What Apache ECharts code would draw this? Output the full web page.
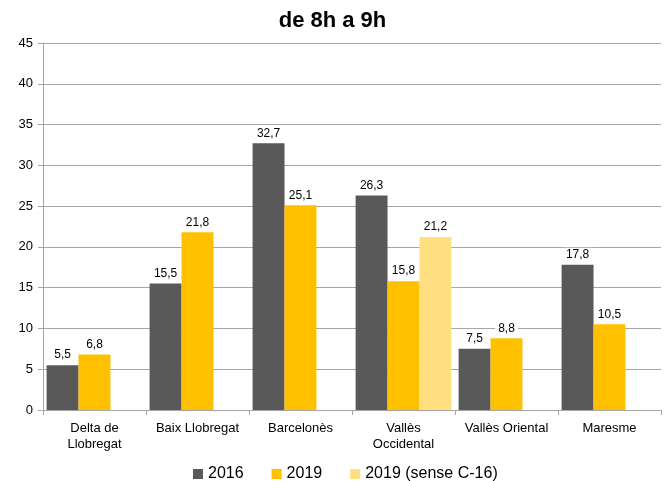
<!DOCTYPE html>
<html>
<head>
<meta charset="utf-8">
<script src="https://cdn.jsdelivr.net/npm/echarts@6/dist/echarts.min.js"></script>
<style>
html, body { margin: 0; padding: 0; background: #fff; }
#chart { width: 665px; height: 481px; }
</style>
</head>
<body>
<div id="chart"></div>
<script>
var categories = ['Delta de\nLlobregat', 'Baix Llobregat', 'Barcelonès', 'Vallès\nOccidental', 'Vallès Oriental', 'Maresme'];
var serieNames = ['2016', '2019', '2019 (sense C-16)'];
var values2016 = [5.5, 15.5, 32.7, 26.3, 7.5, 17.8];
var values2019 = [6.8, 21.8, 25.1, 15.8, 8.8, 10.5];
var valuesSenseC16 = [null, null, null, 21.2, null, null];
var colors = ['#595959', '#FFC000', '#FFDF80'];

var chart = echarts.init(document.getElementById('chart'));

function fmt(p) {
    return String(p.value).replace('.', ',');
}

var labelStyle = {
    show: true,
    position: 'top',
    distance: 3,
    formatter: fmt,
    color: '#000',
    fontFamily: 'Liberation Sans',
    fontSize: 12,
    backgroundColor: '#fff',
    padding: [1, 3]
};

var allData = [values2016, values2019, valuesSenseC16];
var series = [];
for (var i = 0; i < serieNames.length; i++) {
    series.push({
        name: serieNames[i],
        type: 'bar',
        data: allData[i],
        barGap: '0%',
        barCategoryGap: '7%',
        itemStyle: { color: colors[i] },
        label: labelStyle
    });
}

chart.setOption({
    animation: false,
    textStyle: { fontFamily: 'Liberation Sans' },
    title: {
        text: 'de 8h a 9h',
        left: 'center',
        top: 5,
        textStyle: { fontSize: 22, fontWeight: 'bold', color: '#000', fontFamily: 'Liberation Sans' }
    },
    legend: {
        top: 461,
        left: 188,
        itemWidth: 10,
        itemHeight: 10,
        itemGap: 28,
        icon: 'rect',
        textStyle: { fontSize: 16, color: '#000', fontFamily: 'Liberation Sans' },
        data: serieNames
    },
    grid: {
        left: 43,
        right: 4,
        top: 43,
        bottom: 71
    },
    xAxis: {
        type: 'category',
        data: categories,
        axisLine: { lineStyle: { color: '#A6A6A6' } },
        axisTick: { show: true, length: 5, lineStyle: { color: '#A6A6A6' } },
        axisLabel: { color: '#000', fontSize: 13, interval: 0, lineHeight: 16, margin: 10 }
    },
    yAxis: {
        type: 'value',
        min: 0,
        max: 45,
        interval: 5,
        axisLine: { show: true, lineStyle: { color: '#A6A6A6' } },
        axisTick: { show: true, length: 5, lineStyle: { color: '#A6A6A6' } },
        axisLabel: { color: '#000', fontSize: 13, margin: 10 },
        splitLine: { lineStyle: { color: '#A6A6A6' } }
    },
    series: series
});
</script>
</body>
</html>
